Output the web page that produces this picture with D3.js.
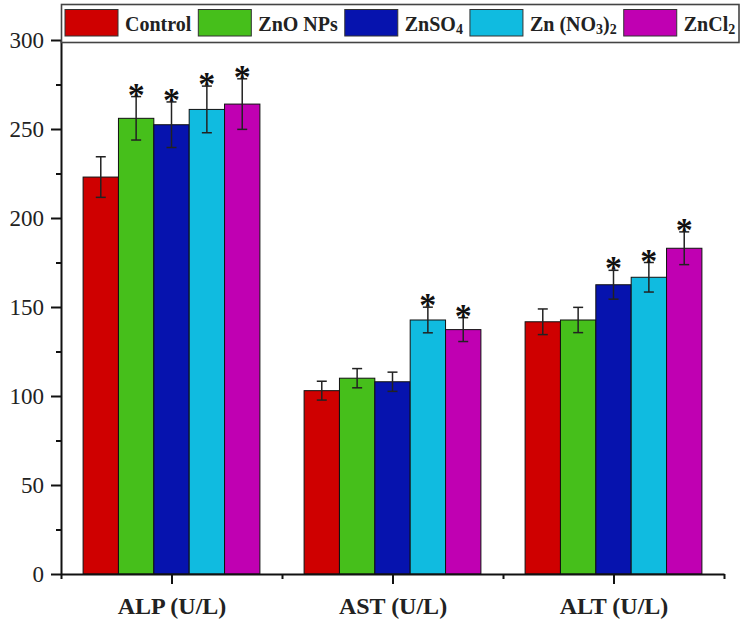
<!DOCTYPE html>
<html><head><meta charset="utf-8">
<script src="https://cdn.jsdelivr.net/npm/d3@7"></script>
<style>body{margin:0;background:#fff}svg{display:block}
svg text{font-family:"Liberation Serif","Times New Roman",Times,serif !important;}</style>
</head><body>
<svg id="c" width="748" height="625"></svg>
<script>
const categories = ["ALP (U/L)", "AST (U/L)", "ALT (U/L)"];
const seriesNames = ["Control", "ZnO NPs", "ZnSO4", "Zn (NO3)2", "ZnCl2"];
const controlValues  = [223.0, 103.0, 141.7];
const znoValues      = [256.0, 110.0, 142.7];
const znso4Values    = [252.4, 108.0, 162.5];
const nitrateValues  = [261.0, 142.7, 166.7];
const chlorideValues = [264.0, 137.3, 183.0];
const controlErr  = [11.4, 5.3, 7.2];
const znoErr      = [12.2, 5.4, 7.1];
const znso4Err    = [12.8, 5.4, 8.1];
const nitrateErr  = [13.1, 7.2, 8.3];
const chlorideErr = [14.2, 6.7, 9.2];
const controlSig  = [0, 0, 0];
const znoSig      = [1, 0, 0];
const znso4Sig    = [1, 0, 1];
const nitrateSig  = [1, 1, 1];
const chlorideSig = [1, 1, 1];
const yTicks = [0, 50, 100, 150, 200, 250, 300];
const yMinorTicks = [25, 75, 125, 175, 225, 275];
const colors = ["#cf0000", "#46bf1b", "#0613ae", "#10bbe0", "#c000b2"];

const values = [controlValues, znoValues, znso4Values, nitrateValues, chlorideValues];
const errs = [controlErr, znoErr, znso4Err, nitrateErr, chlorideErr];
const sigs = [controlSig, znoSig, znso4Sig, nitrateSig, chlorideSig];

const svg = d3.select("#c");
const x = d3.scaleLinear().domain([0.5, 3.5]).range([61, 724]);
const y = d3.scaleLinear().domain([0, 300]).range([574, 40]);
const groupW = 0.8, barW = groupW / seriesNames.length;

const data = [];
values.forEach((vals, s) => vals.forEach((v, c) => data.push({s, c, v, e: errs[s][c], sig: sigs[s][c]})));
const bx = d => x(d.c + 1 - groupW / 2 + d.s * barW);
const bw = x(barW) - x(0);

svg.append("g").selectAll("rect").data(data).join("rect")
  .attr("x", bx).attr("width", bw)
  .attr("y", d => y(d.v)).attr("height", d => y(0) - y(d.v))
  .attr("fill", d => colors[d.s]).attr("stroke", "#111").attr("stroke-width", 1);

const eb = svg.append("g").attr("stroke", "#222").attr("stroke-width", 1.5);
data.forEach(d => {
  const cx = bx(d) + bw / 2;
  eb.append("line").attr("x1", cx).attr("x2", cx).attr("y1", y(d.v + d.e)).attr("y2", y(d.v - d.e));
  [d.v + d.e, d.v - d.e].forEach(t => eb.append("line").attr("x1", cx - 5).attr("x2", cx + 5).attr("y1", y(t)).attr("y2", y(t)));
});

svg.append("g").selectAll("text").data(data.filter(d => d.sig)).join("text")
  .attr("x", d => bx(d) + bw / 2).attr("y", d => y(d.v + d.e) + 9)
  .attr("text-anchor", "middle").attr("font-weight", "bold")
  .attr("font-size", 34).attr("fill", "#111").text("*");

// axes
const yAxis = svg.append("g").attr("transform", `translate(${x(0.5)},0)`)
  .call(d3.axisLeft(y).tickValues(yTicks).tickSize(10).tickSizeOuter(0).tickPadding(7));
const yMinor = svg.append("g").attr("transform", `translate(${x(0.5)},0)`)
  .call(d3.axisLeft(y).tickValues(yMinorTicks).tickSize(5).tickFormat(""));
yMinor.select(".domain").remove();
const xAxis = svg.append("g").attr("transform", `translate(0,${y(0)})`)
  .call(d3.axisBottom(x).tickValues([1, 2, 3]).tickFormat(i => categories[i - 1]).tickSize(10).tickSizeOuter(0).tickPadding(13));
const xMinor = svg.append("g").attr("transform", `translate(0,${y(0)})`)
  .call(d3.axisBottom(x).tickValues([0.5, 1.5, 2.5, 3.5]).tickSize(5).tickFormat(""));
xMinor.select(".domain").remove();
svg.selectAll(".domain, .tick line").attr("stroke", "#111").attr("stroke-width", 2);
yAxis.selectAll("text").attr("font-size", 23).attr("fill", "#222");
xAxis.selectAll("text").attr("font-size", 24).attr("font-weight", "bold").attr("fill", "#222");

// legend
const lg = svg.append("g");
lg.append("rect").attr("x", 61.5).attr("y", 4.5).attr("width", 677.5).attr("height", 38)
  .attr("fill", "#fff").attr("stroke", "#444").attr("stroke-width", 1.6);
let lx = 65;
const labelParts = [
  [["Control"]], [["ZnO NPs"]], [["ZnSO"], ["4", "sub"]],
  [["Zn (NO"], ["3", "sub"], [")"], ["2", "sub"]], [["ZnCl"], ["2", "sub"]]
];
seriesNames.forEach((n, i) => {
  lg.append("rect").attr("x", lx).attr("y", 9.5).attr("width", 53).attr("height", 26.5)
    .attr("fill", colors[i]).attr("stroke", "#333").attr("stroke-width", 1);
  lx += 53 + 7;
  const t = lg.append("text").attr("x", lx).attr("y", 30.5)
    .attr("font-weight", "bold").attr("font-size", 20).attr("fill", "#222");
  labelParts[i].forEach((p, k) => {
    const ts = t.append("tspan").text(p[0]);
    if (p[1] === "sub") ts.attr("font-size", 14).attr("dy", 3);
    else if (k > 0) ts.attr("dy", -3);
  });
  lx += t.node().getComputedTextLength() + 7;
});
</script>
</body></html>
